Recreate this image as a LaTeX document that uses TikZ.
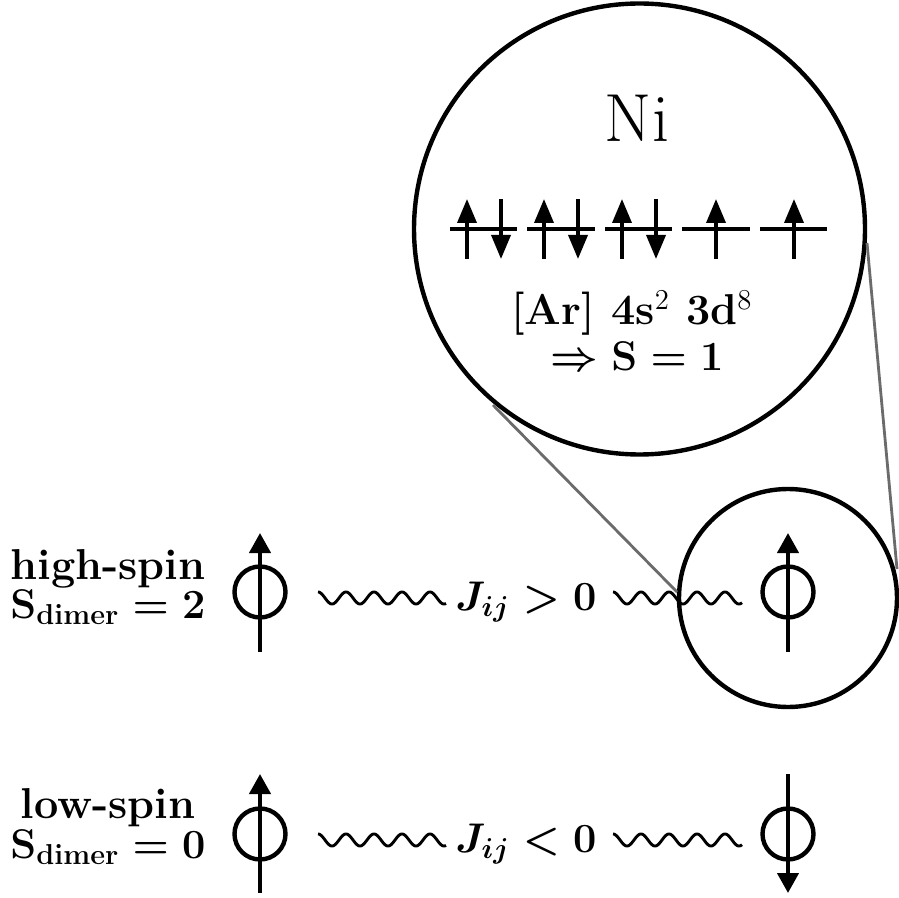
\documentclass[tikz,border=0pt]{standalone}
\usepackage{amsmath}
\usetikzlibrary{arrows.meta}
\begin{document}
\begin{tikzpicture}[x=0.5pt,y=-0.5pt,
  ring/.style={draw, line width=2.2pt, circle, inner sep=0pt, outer sep=0pt},
  spinarrow/.style={line width=2.1pt, -{Triangle[width=10.5pt,length=10pt]}},
  orbarrow/.style={line width=1.8pt, -{Triangle[width=9.5pt,length=12pt]}},
  level/.style={line width=1.8pt},
  wave/.style={line width=1.45pt},
  zoomline/.style={draw=black!58, line width=1.4pt},
  lbl/.style={font=\fontsize{21.6}{26}\selectfont\bfseries\boldmath, inner sep=0pt, anchor=base},
  big/.style={font=\fontsize{34}{40}\selectfont, inner sep=0pt, anchor=base}]
\useasboundingbox (0,0) rectangle (899,898);

% zoom circles
\node[ring, minimum size=225.5pt] (zoomout) at (639.5,229) {};
\node[ring, minimum size=109pt] (zoomin) at (788,598) {};
\coordinate (zoa) at (493,405);
\coordinate (zob) at (867,243);
\coordinate (zia) at (677,592);
\coordinate (zib) at (897,569);
\draw[zoomline] (zoa) -- (zia);
\draw[zoomline] (zob) -- (zib);

% Ni detail
\node[big] (ni) at (637,142) {Ni};
\foreach \a/\b in {450/517, 527/595, 605/672, 682/750, 760/827}
  \draw[level] (\a,229) -- (\b,229);
\foreach \x in {467,544,622,716,794}
  \draw[orbarrow] (\x,259) -- (\x,199);
\foreach \x in {501,578,656}
  \draw[orbarrow] (\x,199) -- (\x,259);
\node[lbl] (conf) at (632,325) {[Ar] 4s{\unboldmath$^{2}$}\ 3d{\unboldmath$^{8}$}};
\node[lbl] (spinS) at (637,371) {$\Rightarrow \mathrm{S} = \mathbf{1}$};

% high-spin row
\node[lbl] (hs) at (108,579) {high-spin};
\node[lbl] (hsS) at (108,618) {$\mathrm{S}_{\mathbf{dimer}} = \mathbf{2}$};
\node[ring, minimum size=25.5pt] (s1) at (260,592) {};
\draw[spinarrow] (260,652) -- (260,533);
\node[ring, minimum size=25.5pt] (s2) at (788,592) {};
\draw[spinarrow] (788,652) -- (788,533);
\draw[wave] plot[domain=318:446, samples=150, smooth] (\x,{598-6*cos(12.857*(\x-318))});
\draw[wave] plot[domain=613:742, samples=150, smooth] (\x,{598-6*cos(12.857*(\x-613))});
\node[lbl] (j1) at (526,610) {$J_{ij} > 0$};

% low-spin row
\node[lbl] (ls) at (108,818) {low-spin};
\node[lbl] (lsS) at (108,858) {$\mathrm{S}_{\mathbf{dimer}} = \mathbf{0}$};
\node[ring, minimum size=25.5pt] (s3) at (260,834) {};
\draw[spinarrow] (260,893) -- (260,774);
\node[ring, minimum size=25.5pt] (s4) at (788,834) {};
\draw[spinarrow] (788,774) -- (788,893);
\draw[wave] plot[domain=318:446, samples=150, smooth] (\x,{840-6*cos(12.857*(\x-318))});
\draw[wave] plot[domain=613:742, samples=150, smooth] (\x,{840-6*cos(12.857*(\x-613))});
\node[lbl] (j2) at (526,852) {$J_{ij} < 0$};
\end{tikzpicture}
\end{document}
